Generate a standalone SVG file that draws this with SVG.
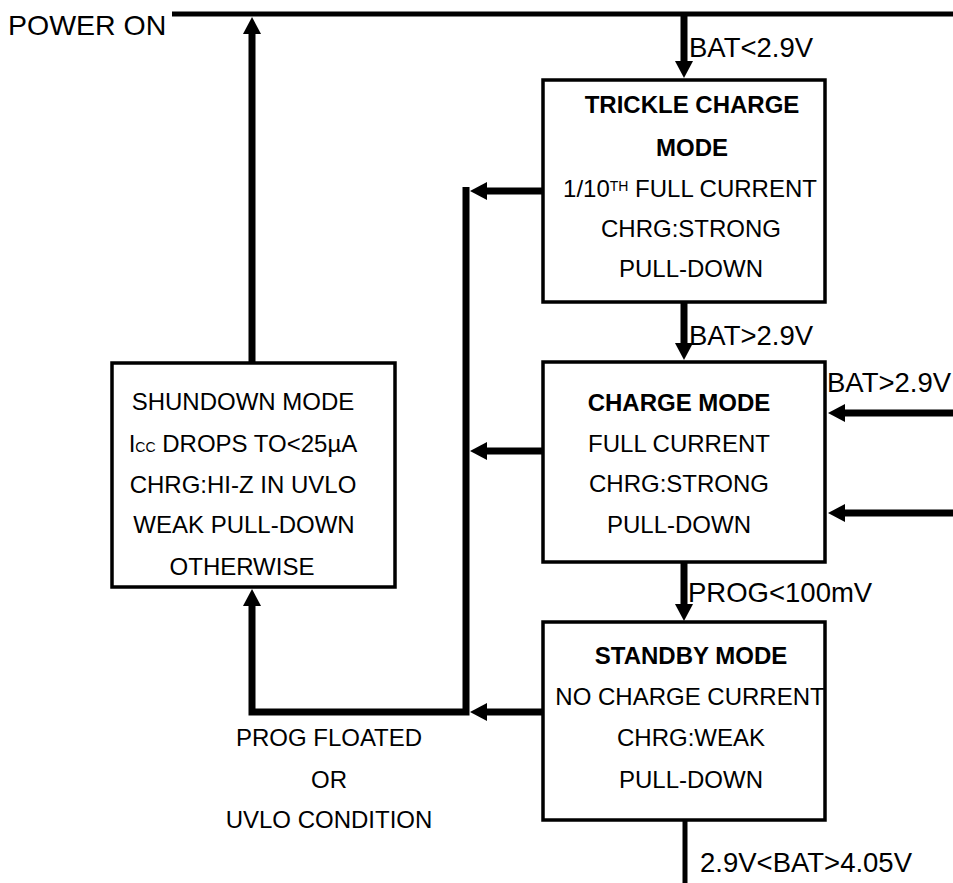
<svg xmlns="http://www.w3.org/2000/svg" xmlns:xlink="http://www.w3.org/1999/xlink" width="953" height="883" viewBox="0 0 953 883">
<style>
text{font-family:"Liberation Sans",Arial,sans-serif;fill:#000}
.b{font-size:24px;text-anchor:middle}
.t{font-weight:bold}
.lab{font-size:27.5px}
.box{fill:#fff;stroke:#000;stroke-width:3.5}
.c{fill:none;stroke:#000;stroke-width:7;stroke-linejoin:miter}
.sm{font-size:14px}
</style>
<defs>
<path id="ah" d="M0,0 L-17,-9 L-17,9 Z" fill="#000"/>
</defs>
<rect width="953" height="883" fill="#fff"/>
<g id="connectors">
<line x1="172" y1="14" x2="953" y2="14" stroke="#000" stroke-width="5"/>
<line class="c" x1="252" y1="363" x2="252" y2="32"/>
<use href="#ah" transform="translate(252,17) rotate(-90)"/>
<line class="c" x1="684" y1="14" x2="684" y2="62"/>
<use href="#ah" transform="translate(684,78) rotate(90)"/>
<line class="c" x1="684" y1="302" x2="684" y2="344"/>
<use href="#ah" transform="translate(684,360) rotate(90)"/>
<line class="c" x1="684" y1="562" x2="684" y2="605"/>
<use href="#ah" transform="translate(684,621) rotate(90)"/>
<line x1="685" y1="820" x2="685" y2="883" stroke="#000" stroke-width="5"/>
<line class="c" x1="543" y1="191" x2="486" y2="191"/>
<use href="#ah" transform="translate(470,191) rotate(180)"/>
<line class="c" x1="543" y1="451" x2="486" y2="451"/>
<use href="#ah" transform="translate(470,451) rotate(180)"/>
<line class="c" x1="543" y1="712" x2="486" y2="712"/>
<use href="#ah" transform="translate(470,712) rotate(180)"/>
<path class="c" d="M252,604 V712 H466 V187"/>
<use href="#ah" transform="translate(252,589) rotate(-90)"/>
<line class="c" x1="953" y1="413" x2="844" y2="413"/>
<use href="#ah" transform="translate(828,413) rotate(180)"/>
<line class="c" x1="953" y1="513" x2="844" y2="513"/>
<use href="#ah" transform="translate(828,513) rotate(180)"/>
<text class="lab" x="8" y="35" style="font-size:28.5px">POWER ON</text>
<text class="lab" x="689" y="57">BAT&lt;2.9V</text>
<text class="lab" x="689" y="345">BAT&gt;2.9V</text>
<text class="lab" x="827" y="392">BAT&gt;2.9V</text>
<text class="lab" x="688" y="602">PROG&lt;100mV</text>
<text class="lab" x="700" y="872">2.9V&lt;BAT&gt;4.05V</text>
<text class="b" x="329" y="746">PROG FLOATED</text>
<text class="b" x="329" y="788">OR</text>
<text class="b" x="329" y="828">UVLO CONDITION</text>
</g>
<g id="trickle">
<rect class="box" x="543" y="80" width="282" height="222"/>
<text class="b t" x="692" y="113">TRICKLE CHARGE</text>
<text class="b t" x="692" y="156">MODE</text>
<text class="b" x="690" y="197">1/10<tspan class="sm" dy="-6">TH</tspan><tspan dy="6"> FULL CURRENT</tspan></text>
<text class="b" x="691" y="237">CHRG:STRONG</text>
<text class="b" x="691" y="277">PULL-DOWN</text>
</g>
<g id="charge">
<rect class="box" x="543" y="362" width="282" height="200"/>
<text class="b t" x="679" y="411">CHARGE MODE</text>
<text class="b" x="679" y="452">FULL CURRENT</text>
<text class="b" x="679" y="492">CHRG:STRONG</text>
<text class="b" x="679" y="533">PULL-DOWN</text>
</g>
<g id="standby">
<rect class="box" x="543" y="622" width="282" height="198"/>
<text class="b t" x="691" y="664">STANDBY MODE</text>
<text class="b" x="690" y="705">NO CHARGE CURRENT</text>
<text class="b" x="691" y="746">CHRG:WEAK</text>
<text class="b" x="691" y="788">PULL-DOWN</text>
</g>
<g id="shutdown">
<rect class="box" x="112" y="363" width="283" height="224"/>
<text class="b" x="243" y="410">SHUNDOWN MODE</text>
<text class="b" x="243" y="452">I<tspan class="sm">CC</tspan> DROPS TO&lt;25µA</text>
<text class="b" x="243" y="493">CHRG:HI-Z IN UVLO</text>
<text class="b" x="244" y="533">WEAK PULL-DOWN</text>
<text class="b" x="242" y="575">OTHERWISE</text>
</g>
</svg>
